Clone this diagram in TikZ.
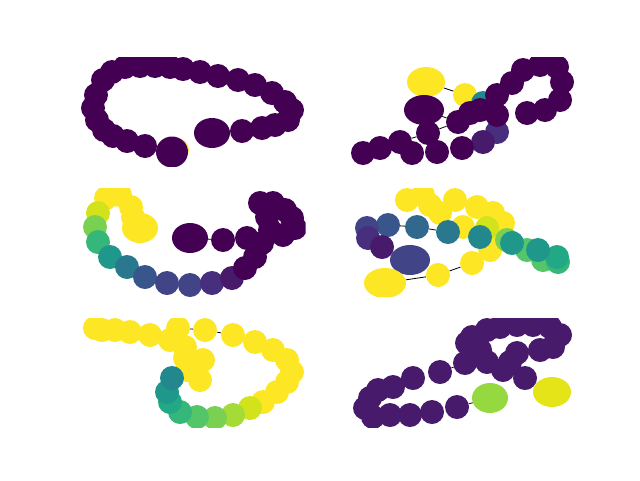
\documentclass[tikz,border=0pt]{standalone}
\usetikzlibrary{shapes.geometric,backgrounds}
\definecolor{V0}{HTML}{440154}
\definecolor{V1}{HTML}{481A6C}
\definecolor{V2}{HTML}{472F7D}
\definecolor{V3}{HTML}{414487}
\definecolor{V4}{HTML}{39568C}
\definecolor{V5}{HTML}{31688E}
\definecolor{V6}{HTML}{2A788E}
\definecolor{V7}{HTML}{23888E}
\definecolor{V8}{HTML}{1F988B}
\definecolor{V9}{HTML}{22A884}
\definecolor{V10}{HTML}{35B779}
\definecolor{V11}{HTML}{54C568}
\definecolor{V12}{HTML}{7AD151}
\definecolor{V13}{HTML}{A5DB36}
\definecolor{V14}{HTML}{D2E21B}
\definecolor{V15}{HTML}{FDE725}
\definecolor{LG}{HTML}{95D840}
\definecolor{YY}{HTML}{E5E419}
\begin{document}
\begin{tikzpicture}[x=1pt,y=-1pt,
  dot/.style={circle,minimum size=24pt,inner sep=0pt,draw=none},
  blob/.style={ellipse,inner sep=0pt,draw=none},
  edge/.style={black,line width=0.8pt}]
\useasboundingbox (0,0) rectangle (640,480);
% ---------- panel 1
\begin{scope}
\clip (80,57.6) rectangle (305.5,166.3);
\node[dot,fill=V15] (a0) at (177,150) {};
\foreach \x/\y [count=\i] in {103/80,112/72,125/67,140/66,155/66,170/67,183/69,200/72,218/76,238/80,255/85,272/93,285/102,292/110,288/120,275/125,262/128,242/131,96/95,93/108,97/120,104/130,113/136,127/141,145/146}
  \node[dot,fill=V0] (a\i) at (\x,\y) {};
\node[blob,fill=V0,minimum width=36pt,minimum height=30pt] (ae) at (212,133) {};
\node[blob,fill=V0,minimum width=32pt,minimum height=31pt] (ab) at (172,152) {};
\end{scope}
% ---------- panel 2
\begin{scope}
\clip (350.5,57.6) rectangle (576,166.3);
\node[blob,fill=V15,minimum width=38pt,minimum height=30pt] (by) at (426,82) {};
\node[dot,fill=V15] (bc) at (465,95) {};
\node[dot,fill=V7] (bt) at (483,103) {};
\node[dot,fill=V2] (bb) at (497,132) {};
\node[dot,fill=V1] (bd) at (483,142) {};
\node[blob,fill=V0,minimum width=40pt,minimum height=30pt] (be) at (424,110) {};
\foreach \x/\y [count=\i] in {363/153,380/148,400/142,412/153,428/133,437/152,462/148,458/122,470/113,480/110,497/115,497/95,512/83,523/70,540/65,557/67,562/82,560/100,545/110,527/113,548/58}
  \node[dot,fill=V0] (b\i) at (\x,\y) {};
\end{scope}
\begin{scope}[on background layer]
\draw[edge] (by) -- (bc);
\draw[edge] (be) -- (b8);
\draw[edge] (b5) -- (b8);
\draw[edge] (b3) -- (b5);
\end{scope}
% ---------- panel 3
\begin{scope}
\clip (80,188.1) rectangle (305.5,296.8);
\foreach \x/\y [count=\i] in {106/198,120/195,131/207,133/217}
  \node[dot,fill=V15] (cy\i) at (\x,\y) {};
\node[blob,fill=V15,minimum width=36pt,minimum height=30pt] (cye) at (140,228) {};
\foreach \x/\y/\c [count=\i] in {98/213/V14,95/227/V12,98/242/V10,110/257/V8,127/267/V6,145/277/V4,167/283/V3,190/285/V3,212/283/V2,232/278/V1,245/268/V0,255/257/V0,262/243/V0}
  \node[dot,fill=\c] (c\i) at (\x,\y) {};
\node[blob,fill=V0,minimum width=36pt,minimum height=30pt] (ce) at (190,238) {};
\foreach \x/\y [count=\i] in {223/240,247/238,260/203,273/203,285/210,292/218,295/228,283/235,270/230,267/217}
  \node[dot,fill=V0] (cr\i) at (\x,\y) {};
\end{scope}
\begin{scope}[on background layer]
\draw[edge] (ce) -- (cr1);
\end{scope}
% ---------- panel 4
\begin{scope}
\clip (350.5,188.1) rectangle (576,296.8);
\foreach \x/\y [count=\i] in {407/200,423/195,430/205,455/200,477/207,493/213,503/223,487/237,490/250,463/227,440/213}
  \node[dot,fill=V15] (dy\i) at (\x,\y) {};
\node[dot,fill=V14] (d0) at (487,228) {};
\foreach \x/\y/\c [count=\i] in {507/240/V12,527/250/V11,543/260/V11,558/262/V10,557/257/V9,538/250/V8,512/243/V8,480/237/V7,448/232/V6,417/227/V5,388/225/V4,367/228/V3,368/238/V2,382/247/V1}
  \node[dot,fill=\c] (d\i) at (\x,\y) {};
\node[blob,fill=V3,minimum width=40pt,minimum height=30pt] (de) at (410,260) {};
\node[dot,fill=V15] (dq1) at (438,275) {};
\node[dot,fill=V15] (dq2) at (472,263) {};
\node[blob,fill=V15,minimum width=42pt,minimum height=30pt] (dqe) at (385,283) {};
\end{scope}
\begin{scope}[on background layer]
\draw[edge] (dqe) -- (dq1) -- (dq2);
\draw[edge] (d11) -- (d10) -- (d9);
\end{scope}
% ---------- panel 5
\begin{scope}
\clip (80,318.5) rectangle (305.5,427.2);
\foreach \x/\y [count=\i] in {95/328,102/330,115/330,130/332,150/335,170/340,178/328,205/330,233/335,255/342,273/350,287/360,292/372,287/382,277/392,263/402,185/347,203/360,200/380,187/370,185/358}
  \node[dot,fill=V15] (e\i) at (\x,\y) {};
\foreach \x/\y/\c [count=\i] in {250/408/V14,233/415/V13,215/418/V12,197/417/V11,180/412/V10,170/402/V9,167/392/V8,172/378/V7}
  \node[dot,fill=\c] (eg\i) at (\x,\y) {};
\end{scope}
\begin{scope}[on background layer]
\draw[edge] (e5) -- (e7) -- (e8) -- (e9);
\end{scope}
% ---------- panel 6
\begin{scope}
\clip (350.5,318.5) rectangle (576,427.2);
\foreach \x/\y [count=\i] in {365/408,370/398,378/390,393/387,413/378,440/372,465/363,467/343,472/337,487/330,500/327,517/325,533/325,550/327,560/335,553/347,540/350,517/353,510/362,525/378,503/370,487/362,480/350,373/417,390/415,410/415,432/412,457/407}
  \node[dot,fill=V1] (f\i) at (\x,\y) {};
\node[blob,fill=LG,minimum width=36pt,minimum height=30pt] (fg) at (490,398) {};
\node[blob,fill=YY,minimum width=38pt,minimum height=30pt] (fy) at (552,392) {};
\end{scope}
\begin{scope}[on background layer]
\draw[edge] (f28) -- (fg);
\draw[edge] (f6) -- (f7);
\end{scope}
\end{tikzpicture}
\end{document}
